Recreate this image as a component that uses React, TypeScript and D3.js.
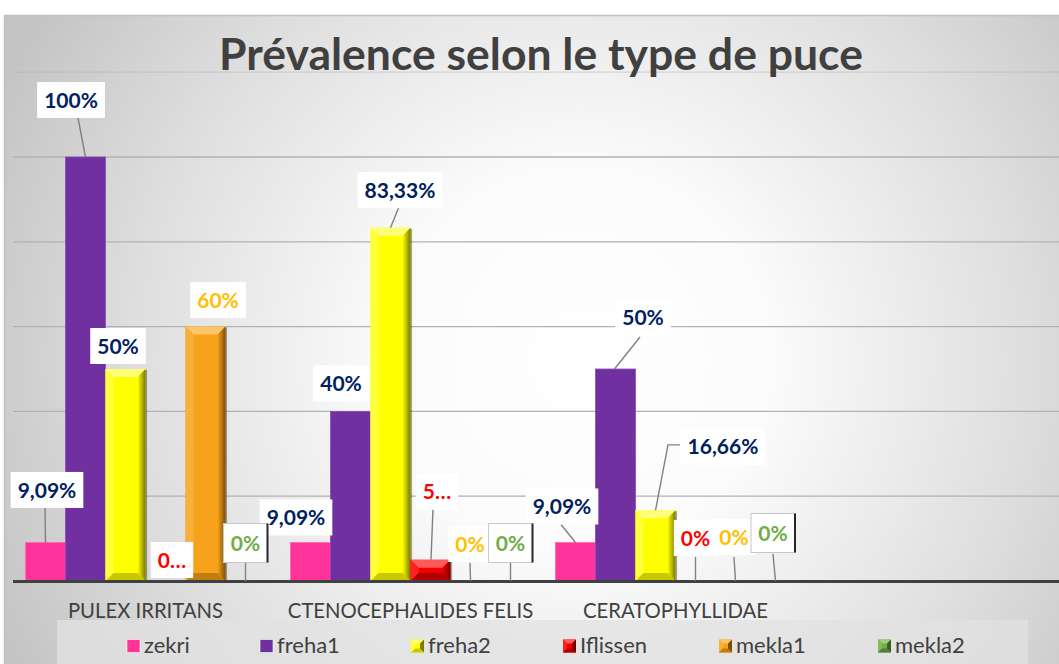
import React from "react";
import * as d3 from "d3";

// ---------- data ----------
const categories = ["PULEX IRRITANS", "CTENOCEPHALIDES FELIS", "CERATOPHYLLIDAE"];
const seriesNames = ["zekri", "freha1", "freha2", "Iflissen", "mekla1", "mekla2"];
const zekri = [9.09, 9.09, 9.09];
const freha1 = [100, 40, 50];
const freha2 = [50, 83.33, 16.66];
const iflissen = [0, 5, 0];
const mekla1 = [60, 0, 0];
const mekla2 = [0, 0, 0];
const zekriLabels = ["9,09%", "9,09%", "9,09%"];
const freha1Labels = ["100%", "40%", "50%"];
const freha2Labels = ["50%", "83,33%", "16,66%"];
const iflissenLabels = ["0…", "5…", "0%"];
const mekla1Labels = ["60%", "0%", "0%"];
const mekla2Labels = ["0%", "0%", "0%"];
const gridTicks = [0, 20, 40, 60, 80, 100, 120];
const title = "Prévalence selon le type de puce";

const seriesValues = [zekri, freha1, freha2, iflissen, mekla1, mekla2];
const seriesLabels = [zekriLabels, freha1Labels, freha2Labels, iflissenLabels, mekla1Labels, mekla2Labels];

// ---------- styles ----------
type Style = { base: string; light: string; mid: string; dark: string; bottom: string; text: string; bevel: boolean };
const styles: Style[] = [
  { base: "#FF3399", light: "#FF66B2", mid: "#FF3399", dark: "#CC297A", bottom: "#CC297A", text: "#002060", bevel: false },
  { base: "#7030A0", light: "#8A4DB8", mid: "#7030A0", dark: "#5A2680", bottom: "#5A2680", text: "#002060", bevel: false },
  { base: "#FFFF00", light: "#FFFF7A", mid: "#FFFF3A", dark: "#7A7A00", bottom: "#C8C800", text: "#002060", bevel: true },
  { base: "#F00000", light: "#FF5A5A", mid: "#FF2020", dark: "#7A0000", bottom: "#B00000", text: "#FF0000", bevel: true },
  { base: "#F7A21B", light: "#FBC766", mid: "#F9B03A", dark: "#7A4F08", bottom: "#C07E12", text: "#FFC000", bevel: true },
  { base: "#70AD47", light: "#9CCB7C", mid: "#80BC58", dark: "#3A5E22", bottom: "#557F36", text: "#70AD47", bevel: true },
];

// label layout: [dx, dy] from bar top-centre to text centre; leader: start offset from text centre, or elbow
type Leader = null | { s: [number, number]; e: number; elbow?: [number, number] };
type Lab = { dx: number; dy: number; leader: Leader; bordered?: boolean };
const labelLayout: Lab[][] = [
  [
    { dx: 1.5, dy: -52.5, leader: { s: [-2, 17], e: 0 } },
    { dx: -14.5, dy: -25, leader: null },
    { dx: -13.5, dy: -36, leader: { s: [-1, 18], e: 0 } },
  ],
  [
    { dx: -14.5, dy: -57, leader: { s: [7, 18], e: 0 } },
    { dx: -9.5, dy: -28, leader: null },
    { dx: 27.5, dy: -52, leader: { s: [-3, 20], e: -1 } },
  ],
  [
    { dx: -7.5, dy: -23, leader: null },
    { dx: 9.5, dy: -37.5, leader: { s: [0, 14], e: 0 } },
    { dx: 67.5, dy: -63.5, leader: { s: [-43, -2], e: 0, elbow: [-55, -2] } },
  ],
  [
    { dx: 6.5, dy: -21, leader: null },
    { dx: 6.5, dy: -68, leader: { s: [-4, 17], e: 0.5 } },
    { dx: 0, dy: -43, leader: { s: [0, 19], e: 0 } },
  ],
  [
    { dx: 12.5, dy: -26.5, leader: null },
    { dx: -0.5, dy: -37, leader: { s: [0, 19], e: 0 } },
    { dx: -1.5, dy: -44, leader: { s: [0, 20], e: 0 } },
  ],
  [
    { dx: 0, dy: -38, leader: { s: [0, 19], e: 0 }, bordered: true },
    { dx: 0, dy: -38, leader: { s: [0, 19], e: 0 }, bordered: true },
    { dx: -2.5, dy: -48, leader: { s: [0, 21], e: 0 }, bordered: true },
  ],
];
const legendX = [127, 260, 411, 563, 719, 878];

const W = 1059;
const H = 664;
const LABEL_SIZE = 21;
const LABEL_FONT = `bold ${LABEL_SIZE}px Lato`;

let ctx: CanvasRenderingContext2D | null = null;
function measure(t: string, font: string) {
  if (!ctx) ctx = document.createElement("canvas").getContext("2d");
  if (!ctx) return t.length * 11;
  ctx.font = font;
  return ctx.measureText(t).width;
}

function BevelBar({ x, y, w, h, s, id }: { x: number; y: number; w: number; h: number; s: Style; id: string }) {
  if (h <= 0) return null;
  if (!s.bevel) {
    return <rect x={x} y={y} width={w} height={h} fill={s.base} stroke={s.light} strokeWidth={0.8} />;
  }
  const b = Math.min(8, h / 2, w / 2);
  const x1 = x + w;
  const y1 = y + h;
  return (
    <g>
      <rect x={x} y={y} width={w} height={h} fill={s.base} />
      <polygon points={`${x},${y} ${x1},${y} ${x1 - b},${y + b} ${x + b},${y + b}`} fill={s.light} />
      <polygon points={`${x},${y} ${x + b},${y + b} ${x + b},${y1 - b} ${x},${y1}`} fill={s.mid} />
      <polygon points={`${x1},${y} ${x1},${y1} ${x1 - b},${y1 - b} ${x1 - b},${y + b}`} fill={`url(#rg-${id})`} />
      <polygon points={`${x},${y1} ${x + b},${y1 - b} ${x1 - b},${y1 - b} ${x1},${y1}`} fill={s.bottom} />
      <line x1={x1 + 0.8} y1={y + 1} x2={x1 + 0.8} y2={y1} stroke="#000" strokeOpacity={0.35} strokeWidth={1.6} />
    </g>
  );
}

function LegendMarker({ x, y, s }: { x: number; y: number; s: Style }) {
  const sz = 13;
  if (!s.bevel) {
    return <rect x={x} y={y} width={sz} height={sz} fill={s.base} stroke="#ffffff" strokeOpacity={0.6} strokeWidth={1} />;
  }
  const c = 4;
  const x1 = x + sz;
  const y1 = y + sz;
  return (
    <g>
      <rect x={x} y={y} width={sz} height={sz} fill={s.base} />
      <polygon points={`${x},${y} ${x1},${y} ${x1 - c},${y + c} ${x + c},${y + c}`} fill={s.light} />
      <polygon points={`${x},${y} ${x + c},${y + c} ${x + c},${y1 - c} ${x},${y1}`} fill={s.mid} />
      <polygon points={`${x1},${y} ${x1},${y1} ${x1 - c},${y1 - c} ${x1 - c},${y + c}`} fill={s.dark} />
      <polygon points={`${x},${y1} ${x + c},${y1 - c} ${x1 - c},${y1 - c} ${x1},${y1}`} fill={s.bottom} />
    </g>
  );
}

export default function App() {
  const x0 = d3.scaleBand<string>().domain(categories).range([13, 808]).paddingInner(0).paddingOuter(0);
  const pad = 12.5;
  const x1 = d3.scaleBand<string>().domain(seriesNames).range([pad, x0.bandwidth() - pad]).padding(0);
  const y = d3.scaleLinear().domain([0, 120]).range([581, 72.2]);
  const bw = x1.bandwidth();

  return (
    <svg width={W} height={H} style={{ position: "absolute", left: 0, top: 0 }} fontFamily="Lato, 'Open Sans', sans-serif">
      <defs>
        <radialGradient id="bg" gradientUnits="userSpaceOnUse" cx={580} cy={360} r={640}>
          <stop offset="0" stopColor="#ffffff" />
          <stop offset="0.3" stopColor="#fbfbfb" />
          <stop offset="0.7" stopColor="#dedede" />
          <stop offset="1" stopColor="#c4c4c4" />
        </radialGradient>
        {styles.map((s, i) => (
          <linearGradient key={i} id={`rg-${i}`} x1="0" y1="0" x2="1" y2="0">
            <stop offset="0" stopColor={s.base} />
            <stop offset="1" stopColor={s.dark} />
          </linearGradient>
        ))}
      </defs>
      <rect x={0} y={0} width={W} height={H} fill="#ffffff" />
      <rect x={4.5} y={15.5} width={W + 20} height={H + 20} fill="url(#bg)" stroke="#c0c0c0" strokeWidth={1.5} />

      {/* gridlines */}
      {gridTicks.filter((t) => t > 0).map((t) => (
        <line key={t} x1={13} x2={W} y1={y(t)} y2={y(t)} stroke="#b2b2b2" strokeWidth={1.3} strokeOpacity={t === 120 ? 0.45 : 1} />
      ))}

      {/* title */}
      <text x={541} y={70} textAnchor="middle" fontSize={44.5} fontWeight="bold" fill="#404040">
        {title}
      </text>

      {/* bars */}
      {seriesValues.map((vals, si) =>
        vals.map((v, ci) => {
          const bx = (x0(categories[ci]) as number) + (x1(seriesNames[si]) as number);
          const top = y(v);
          return <BevelBar key={`${si}-${ci}`} x={bx} y={top} w={bw} h={y(0) - top} s={styles[si]} id={String(si)} />;
        })
      )}

      {/* axis line */}
      <line x1={13} x2={W} y1={y(0) + 0.5} y2={y(0) + 0.5} stroke="#404040" strokeWidth={3} />

      {/* leader lines */}
      {seriesValues.map((vals, si) =>
        vals.map((v, ci) => {
          const L = labelLayout[si][ci];
          if (!L.leader) return null;
          const cx = (x0(categories[ci]) as number) + (x1(seriesNames[si]) as number) + bw / 2;
          const top = y(v);
          const tx = cx + L.dx;
          const ty = top + L.dy;
          const pts: [number, number][] = [[tx + L.leader.s[0], ty + L.leader.s[1]]];
          if (L.leader.elbow) pts.push([tx + L.leader.elbow[0], ty + L.leader.elbow[1]]);
          pts.push([cx + L.leader.e, top]);
          return (
            <polyline key={`ld-${si}-${ci}`} points={pts.map((p) => p.join(",")).join(" ")} fill="none" stroke="#808080" strokeWidth={1.4} />
          );
        })
      )}

      {/* data labels */}
      {seriesValues.map((vals, si) =>
        vals.map((v, ci) => {
          const L = labelLayout[si][ci];
          const cx = (x0(categories[ci]) as number) + (x1(seriesNames[si]) as number) + bw / 2;
          const tx = cx + L.dx;
          const ty = y(v) + L.dy;
          const text = seriesLabels[si][ci];
          const tw = measure(text, LABEL_FONT);
          const bwid = L.bordered ? 44 : tw + 14;
          const bh = L.bordered ? 39 : 36;
          return (
            <g key={`lb-${si}-${ci}`}>
              <rect x={tx - bwid / 2} y={ty - bh / 2} width={bwid} height={bh} fill="#ffffff" stroke={L.bordered ? "#c8c8c8" : "none"} strokeWidth={1} />
              {L.bordered && (
                <line x1={tx + bwid / 2} x2={tx + bwid / 2} y1={ty - bh / 2} y2={ty + bh / 2} stroke="#262626" strokeWidth={2} />
              )}
              <text x={tx} y={ty} dy="0.36em" textAnchor="middle" fontSize={LABEL_SIZE} fontWeight="bold" fill={styles[si].text}>
                {text}
              </text>
            </g>
          );
        })
      )}

      {/* category labels */}
      {categories.map((c) => (
        <text key={c} x={(x0(c) as number) + x0.bandwidth() / 2} y={618} textAnchor="middle" fontSize={20.3} fill="#404040">
          {c}
        </text>
      ))}

      {/* legend */}
      <rect x={57} y={620} width={971} height={50} fill="#e2e2e2" fillOpacity={0.75} />
      {seriesNames.map((n, i) => (
        <g key={n}>
          <LegendMarker x={legendX[i]} y={639.5} s={styles[i]} />
          <text x={legendX[i] + 17} y={653} fontSize={22} fill="#404040">
            {n}
          </text>
        </g>
      ))}
    </svg>
  );
}
